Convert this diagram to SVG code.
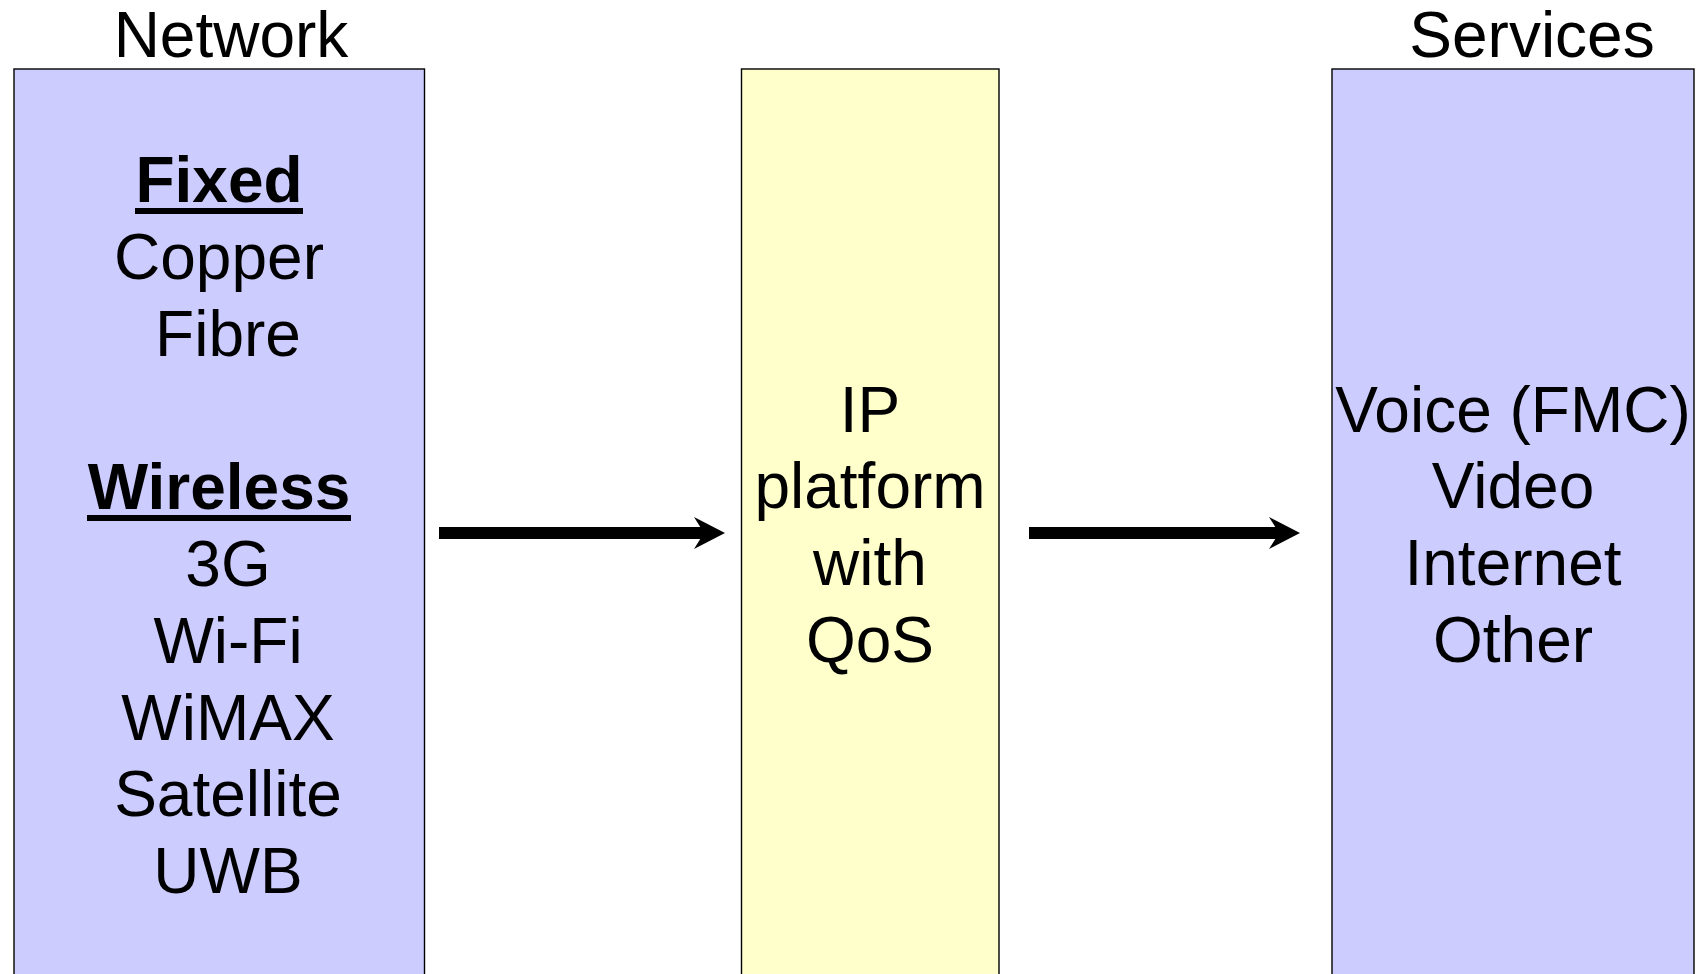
<svg xmlns="http://www.w3.org/2000/svg" width="1704" height="974" viewBox="0 0 1704 974">
  <style>
    .t { font-family: "Liberation Sans", Arial, sans-serif; font-size: 64px; fill: #000; text-anchor: middle; }
    .b { font-weight: bold; }
    .blue { fill: #CCCCFF; stroke: #000; stroke-width: 1.4; }
    .yellow { fill: #FFFFCC; stroke: #000; stroke-width: 1.4; }
    .conn { stroke: #000; stroke-width: 12; fill: none; marker-end: url(#head); }
  </style>
  <defs>
    <marker id="head" viewBox="0 -16 31 32" markerWidth="31" markerHeight="32" refX="10" refY="0" orient="auto" markerUnits="userSpaceOnUse">
      <path d="M0,-16 L31,0 L0,16 L10,0 Z" fill="#000"/>
    </marker>
  </defs>
  <rect width="1704" height="974" fill="#fff"/>

  <g id="network">
    <text class="t" x="231" y="57">Network</text>
    <rect class="blue" x="14" y="69" width="410.5" height="920"/>
    <text class="t b" x="219" y="202">Fixed</text>
    <rect x="135" y="208" width="168" height="6" fill="#000"/>
    <text class="t" x="219" y="279">Copper</text>
    <text class="t" x="228" y="356">Fibre</text>
    <text class="t b" x="219" y="509">Wireless</text>
    <rect x="87" y="515" width="264" height="6" fill="#000"/>
    <text class="t" x="228" y="586">3G</text>
    <text class="t" x="228" y="663">Wi-Fi</text>
    <text class="t" x="228" y="740">WiMAX</text>
    <text class="t" x="228" y="816">Satellite</text>
    <text class="t" x="228" y="893">UWB</text>
  </g>

  <g id="ip-platform">
    <rect class="yellow" x="741.5" y="69" width="257.5" height="920"/>
    <text class="t" x="870" y="432">IP</text>
    <text class="t" x="870" y="508">platform</text>
    <text class="t" x="870" y="585">with</text>
    <text class="t" x="870" y="662">QoS</text>
  </g>

  <g id="services">
    <text class="t" x="1532" y="57">Services</text>
    <rect class="blue" x="1332" y="69" width="362" height="920"/>
    <text class="t" x="1513" y="432">Voice (FMC)</text>
    <text class="t" x="1513" y="508">Video</text>
    <text class="t" x="1513" y="585">Internet</text>
    <text class="t" x="1513" y="662">Other</text>
  </g>

  <g id="connectors">
    <line class="conn" x1="439" y1="533" x2="704" y2="533"/>
    <line class="conn" x1="1029" y1="533" x2="1279" y2="533"/>
  </g>
</svg>
